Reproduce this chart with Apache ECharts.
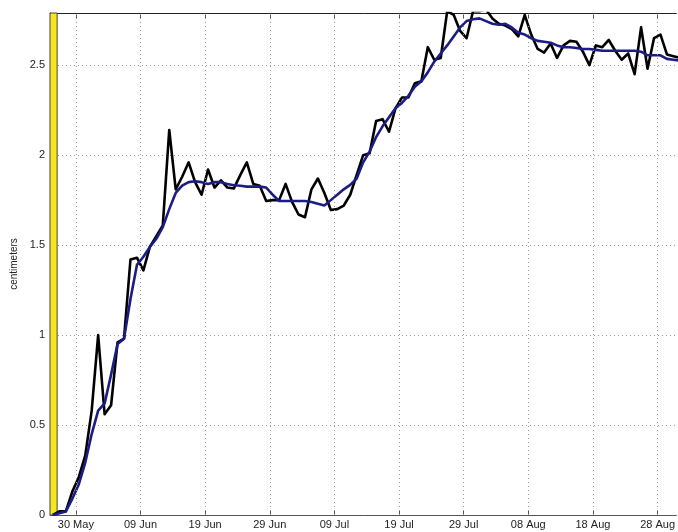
<!DOCTYPE html>
<html><head><meta charset="utf-8">
<script src="https://cdn.jsdelivr.net/npm/echarts@6/dist/echarts.min.js"></script>
<style>html,body{margin:0;padding:0;background:#fff}#c{width:678px;height:532px}</style>
</head><body><div id="c"></div>
<script>
// days are counted relative to 30 May
const startDay = -3.55;
const dailyValues = [
  0.00, 0.02, 0.02, 0.13, 0.21, 0.33, 0.58, 1.00, 0.56, 0.61,
  0.96, 0.98, 1.42, 1.43, 1.36, 1.49, 1.55, 1.61, 2.14, 1.81,
  1.88, 1.96, 1.85, 1.78, 1.92, 1.82, 1.86, 1.82, 1.815, 1.89,
  1.96, 1.84, 1.83, 1.745, 1.75, 1.75, 1.84, 1.74, 1.67, 1.655,
  1.81, 1.87, 1.79, 1.695, 1.70, 1.72, 1.78, 1.89, 2.00, 2.01,
  2.19, 2.20, 2.13, 2.26, 2.32, 2.32, 2.40, 2.41, 2.60, 2.53,
  2.54, 2.80, 2.78, 2.69, 2.65, 2.80, 2.80, 2.81, 2.76, 2.73,
  2.72, 2.70, 2.66, 2.78, 2.67, 2.59, 2.57, 2.62, 2.54, 2.61,
  2.635, 2.63, 2.575, 2.50, 2.61, 2.60, 2.64, 2.58, 2.53, 2.565,
  2.45, 2.71, 2.48, 2.65, 2.67, 2.56, 2.55, 2.54, 2.55
];
const smoothValues = [
  0.00, 0.01, 0.02, 0.09, 0.17, 0.29, 0.45, 0.58, 0.62, 0.78,
  0.95, 0.98, 1.20, 1.39, 1.435, 1.49, 1.535, 1.60, 1.70, 1.79,
  1.83, 1.85, 1.855, 1.85, 1.84, 1.85, 1.85, 1.84, 1.833, 1.83,
  1.825, 1.825, 1.825, 1.82, 1.78, 1.745, 1.745, 1.745, 1.745, 1.745,
  1.74, 1.73, 1.72, 1.75, 1.78, 1.81, 1.835, 1.87, 1.96, 2.02,
  2.10, 2.16, 2.21, 2.26, 2.29, 2.33, 2.38, 2.41, 2.46, 2.52,
  2.565, 2.61, 2.66, 2.71, 2.745, 2.755, 2.76, 2.745, 2.73, 2.725,
  2.73, 2.71, 2.68, 2.67, 2.65, 2.635, 2.63, 2.625, 2.61, 2.60,
  2.60, 2.595, 2.59, 2.59, 2.585, 2.58, 2.58, 2.58, 2.58, 2.58,
  2.58, 2.575, 2.555, 2.555, 2.555, 2.535, 2.53, 2.525, 2.52
];
const tickDays = [0, 10, 20, 30, 40, 50, 60, 70, 80, 90];
const tickLabels = ['30 May', '09 Jun', '19 Jun', '29 Jun', '09 Jul', '19 Jul', '29 Jul', '08 Aug', '18 Aug', '28 Aug'];
const xRange = [-4, 92.9];
const yRange = [0, 2.79];
const highlightSpan = [-4, -2.9];

const dailyData = dailyValues.map((v, i) => [startDay + i, v]);
const smoothData = smoothValues.map((v, i) => [startDay + i, v]);
const FONT = 'Liberation Sans';

const chart = echarts.init(document.getElementById('c'));
const dotStyle = { color: '#9a9a9a', width: 1, type: [1, 3] };
chart.setOption({
  animation: false,
  backgroundColor: '#ffffff',
  grid: { left: 50, right: 0, top: 13, bottom: 17, containLabel: false },
  xAxis: [{
    type: 'value', position: 'bottom', min: xRange[0], max: xRange[1],
    axisLine: { show: true, onZero: false, lineStyle: { color: '#555', width: 1 } },
    axisTick: { show: true, inside: true, length: 5, customValues: tickDays, lineStyle: { color: '#555' } },
    axisLabel: { customValues: tickDays, margin: 4, fontFamily: FONT, fontSize: 11, color: '#222',
      formatter: v => tickLabels[tickDays.indexOf(Math.round(v))] || '' },
    splitLine: { show: false }
  }, {
    type: 'value', position: 'top', min: xRange[0], max: xRange[1],
    axisLine: { show: true, onZero: false, lineStyle: { color: '#222', width: 1 } },
    axisTick: { show: true, inside: true, length: 5, customValues: tickDays, lineStyle: { color: '#555' } },
    axisLabel: { show: false },
    splitLine: { show: false }
  }],
  yAxis: {
    type: 'value', min: yRange[0], max: yRange[1], interval: 0.5,
    name: 'centimeters', nameLocation: 'middle', nameGap: 30,
    nameTextStyle: { fontFamily: FONT, fontSize: 10, color: '#222' },
    axisLine: { show: true, onZero: false, lineStyle: { color: '#333', width: 1 } },
    axisTick: { show: false },
    axisLabel: { showMaxLabel: false, margin: 5, fontFamily: FONT, fontSize: 11, color: '#222',
      formatter: v => String(v) },
    splitLine: { show: true, lineStyle: dotStyle }
  },
  series: [{
    type: 'line', xAxisIndex: 0, data: [], z: 1,
    markLine: { silent: true, symbol: 'none', animation: false,
      label: { show: false }, lineStyle: dotStyle, emphasis: { disabled: true },
      data: tickDays.map(d => ({ xAxis: d })) },
    markArea: { silent: true,
      itemStyle: { color: '#f7e71a', borderColor: '#444', borderWidth: 1 },
      data: [[{ xAxis: highlightSpan[0] }, { xAxis: highlightSpan[1] }]] }
  }, {
    type: 'line', xAxisIndex: 0, data: dailyData, symbol: 'none', z: 3,
    lineStyle: { color: '#000', width: 2.6, join: 'round' }
  }, {
    type: 'line', xAxisIndex: 0, data: smoothData, symbol: 'none', z: 4,
    lineStyle: { color: '#1c1c85', width: 2.6, join: 'round' }
  }]
});
</script></body></html>
